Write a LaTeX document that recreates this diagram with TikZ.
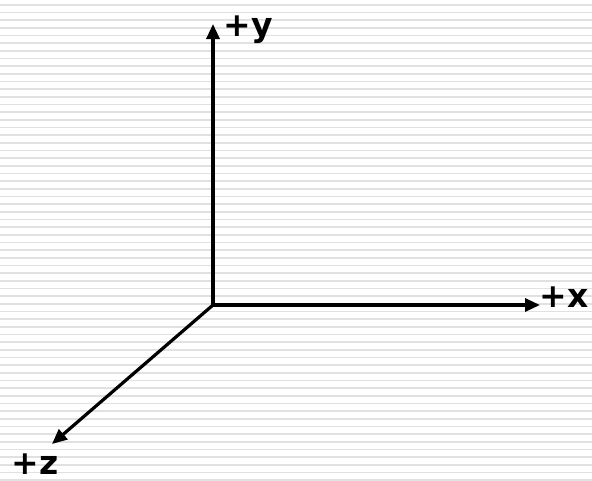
\documentclass[tikz,border=0pt]{standalone}
\usepackage{fontspec}
\setmainfont{DejaVu Sans}
\usetikzlibrary{arrows.meta}
\begin{document}
\begin{tikzpicture}[x=1pt,y=-1pt,
  axis/.style={line width=3.2pt,-{Triangle[length=15pt,width=13pt]}},
  lbl/.style={font=\fontsize{33}{33}\selectfont\bfseries,inner sep=0pt,anchor=base,text depth=0pt}]
\useasboundingbox (0,0) rectangle (592,480);
\fill[white] (0,0) rectangle (592,480);
\foreach \i in {0,...,62}{
  \draw[color={rgb,255:red,225;green,225;blue,225},line width=1.6pt] (0,{4.7+7.67*\i}) -- (592,{4.7+7.67*\i});
}
\coordinate (o) at (213,305);
\coordinate (ty) at (213,24);
\coordinate (tx) at (540,305);
\coordinate (tz) at (52,444);
\draw[axis] (o) -- (ty);
\draw[axis] (o) -- (tx);
\draw[axis] (o) -- (tz);
\node[lbl] (ly) at (248,36) {+y};
\node[lbl] (lx) at (564,307) {+x};
\node[lbl] (lz) at (35,474) {+z};
\end{tikzpicture}
\end{document}
